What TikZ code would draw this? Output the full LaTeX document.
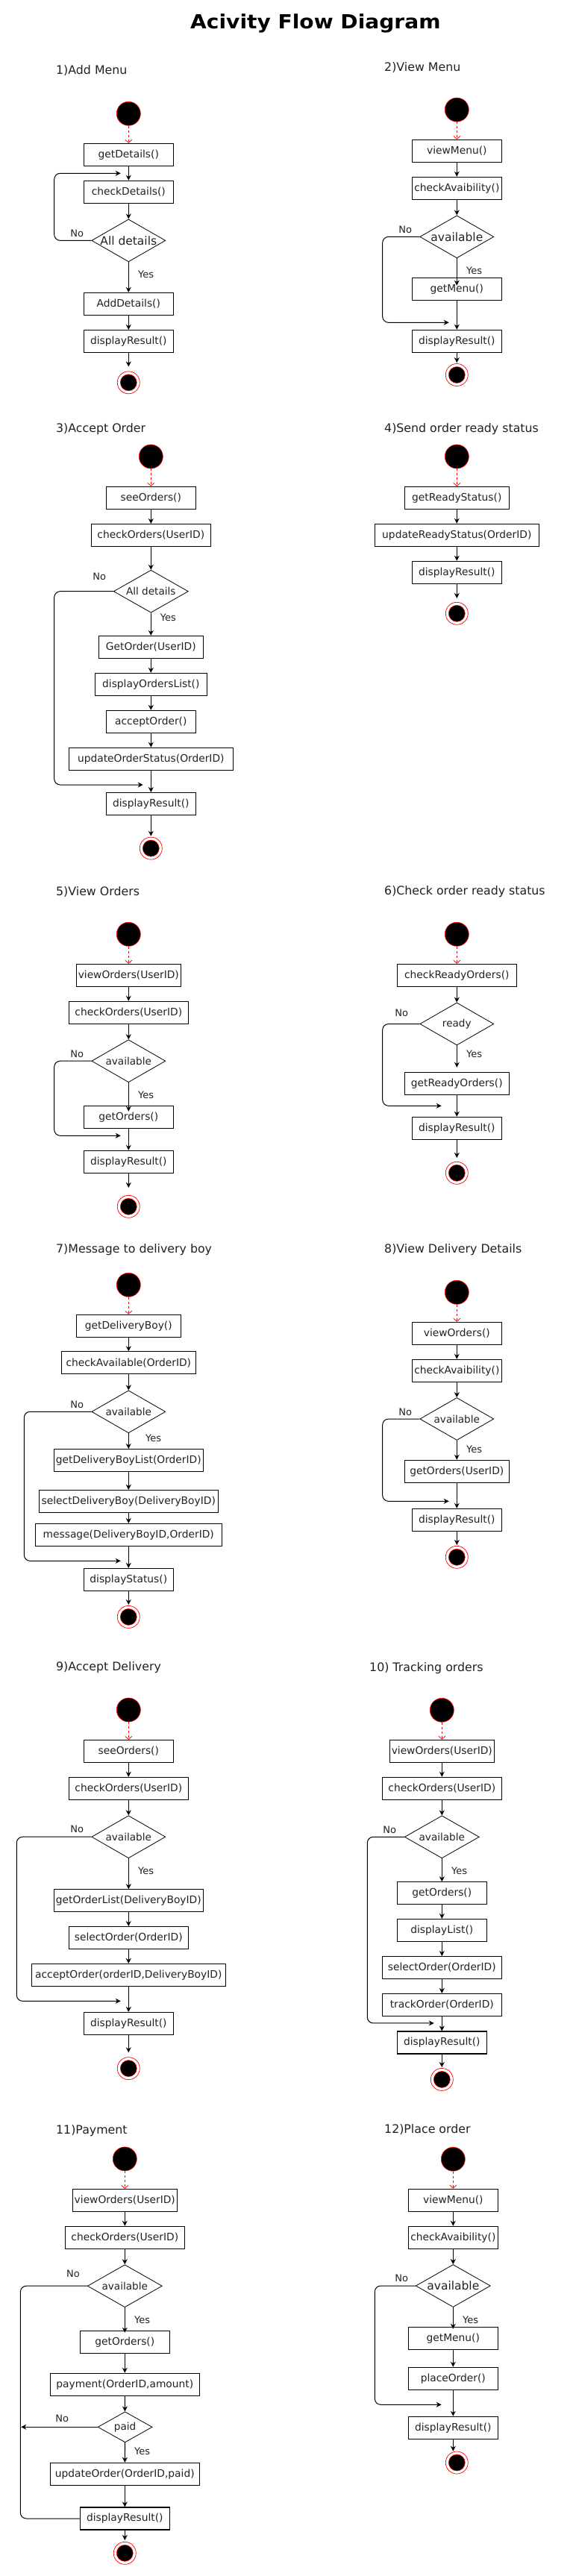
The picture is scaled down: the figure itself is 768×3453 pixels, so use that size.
\documentclass[tikz,border=0pt]{standalone}
\usepackage{fontspec}
\usepackage{graphicx}
\setmainfont{DejaVu Sans}
\usetikzlibrary{arrows.meta,shapes.geometric}
\definecolor{txt}{HTML}{222222}
\newcommand{\fntbox}{\fontsize{13.8}{16}\selectfont}
\newcommand{\fntlbl}{\fontsize{13}{15}\selectfont}
\newcommand{\fntsec}{\fontsize{15.8}{18}\selectfont}
\newcommand{\fntdia}{\fontsize{13.6}{16}\selectfont}
\newcommand{\fntdiab}{\fontsize{15.5}{18}\selectfont}
\newcommand{\fntttl}{\fontsize{26}{30}\selectfont\bfseries}
\begin{document}
\begin{tikzpicture}[x=1pt,y=-1pt,
  box/.style={draw=black, line width=1.1pt, minimum height=30pt, inner sep=0pt, font=\fntbox, text=txt},
  dec/.style={draw=black, line width=0.8pt, diamond, inner sep=0pt, minimum width=99pt, minimum height=57pt},
  dtxt/.style={font=\fntdia, text=txt},
  dtxtb/.style={font=\fntdiab, text=txt},
  st/.style={circle, fill=black, draw=red, line width=0.6pt, minimum size=32pt, inner sep=0pt},
  en/.style={circle, draw=red, line width=0.7pt, minimum size=30pt, inner sep=0pt,
    path picture={\filldraw[fill=black,draw=red,line width=0.5pt] (path picture bounding box.center) circle (11pt);}},
  arr/.style={line width=1.1pt, -{Stealth[length=7pt,width=7pt]}},
  darr/.style={red, line width=0.8pt, dash pattern=on 3pt off 3pt, -{Straight Barb[length=4pt,width=9pt]}},
  back/.style={line width=1pt, rounded corners=8pt, -{Stealth[length=7pt,width=7pt]}},
  backline/.style={line width=1pt, rounded corners=8pt},
  lbl/.style={font=\fntlbl, text=txt},
  sec/.style={font=\fntsec, text=txt, anchor=west, inner sep=0pt},
]
\useasboundingbox[fill=white] (0,0) rectangle (768,3453);

\node[font=\fntttl, anchor=west, inner sep=0pt] (ttl) at (255,31.5) {\scalebox{1.08}[1]{Acivity Flow Diagram}};

% ---------- 1) Add Menu ----------
\node[sec] (t1) at (75,95) {1)Add Menu};
\node[st] (s1) at (172.3,152.3) {};
\node[box, minimum width=120pt] (a1) at (172.3,207.4) {getDetails()};
\node[box, minimum width=120pt] (a2) at (172.3,257.3) {checkDetails()};
\node[dec, label={[dtxtb]center:All details}] (d1) at (172.3,322.4) {};
\node[box, minimum width=120pt] (a3) at (172.3,407.4) {AddDetails()};
\node[box, minimum width=120pt] (a4) at (172.3,457.5) {displayResult()};
\node[en] (e1) at (172.3,512.8) {};
\node[lbl] (n1) at (103.3,313) {No};
\node[lbl] (y1) at (195.7,368) {Yes};
\coordinate (k1) at (72.7,232.3);
\coordinate (j1) at (161.7,232.3);
\draw[darr] (s1) -- (a1);
\draw[arr] (a1) -- (a2);
\draw[arr] (a2) -- (d1);
\draw[arr] (d1) -- (a3);
\draw[arr] (a3) -- (a4);
\draw[arr, shorten >=6pt] (a4) -- (e1);
\draw[back] (d1.west) -| (k1) -- (j1);

% ---------- 2) View Menu ----------
\node[sec] (t2) at (515,90.3) {2)View Menu};
\node[st] (s2) at (612.3,147.1) {};
\node[box, minimum width=120pt] (b1) at (612.3,202.4) {viewMenu()};
\node[box, minimum width=120pt] (b2) at (612.3,252.3) {checkAvaibility()};
\node[dec, label={[dtxtb]center:available}] (d2) at (612.3,317.4) {};
\node[box, minimum width=120pt] (b3) at (612.3,387.3) {getMenu()};
\node[box, minimum width=120pt] (b4) at (612.3,457.3) {displayResult()};
\node[en] (e2) at (612.3,502.5) {};
\node[lbl] (n2) at (543.3,308) {No};
\node[lbl] (y2) at (635.7,363) {Yes};
\coordinate (k2) at (512.7,432.3);
\coordinate (j2) at (601.7,432.3);
\draw[darr] (s2) -- (b1);
\draw[arr] (b1) -- (b2);
\draw[arr] (b2) -- (d2);
\draw[arr, shorten >=-11pt] (d2) -- (b3);
\draw[arr] (b3) -- (b4);
\draw[arr, shorten >=1pt] (b4) -- (e2);
\draw[back] (d2.west) -| (k2) -- (j2);

% ---------- 3) Accept Order ----------
\node[sec] (t3) at (75,575) {3)Accept Order};
\node[st] (s3) at (202.3,612) {};
\node[box, minimum width=120pt] (c1) at (202.3,667.4) {seeOrders()};
\node[box, minimum width=160pt] (c2) at (202.3,717.5) {checkOrders(UserID)};
\node[dec, minimum width=100pt, label={[dtxt]center:All details}] (d3) at (202.3,792.7) {};
\node[box, minimum width=140pt] (c3) at (202.3,867.4) {GetOrder(UserID)};
\node[box, minimum width=150pt] (c4) at (202.3,917.4) {displayOrdersList()};
\node[box, minimum width=120pt] (c5) at (202.3,967.4) {acceptOrder()};
\node[box, minimum width=220pt] (c6) at (202.3,1017.3) {updateOrderStatus(OrderID)};
\node[box, minimum width=120pt] (c7) at (202.3,1077.5) {displayResult()};
\node[en] (e3) at (202.3,1137.1) {};
\node[lbl] (n3) at (133.3,772.9) {No};
\node[lbl] (y3) at (225.3,827.9) {Yes};
\coordinate (k3) at (72.7,1052);
\coordinate (j3) at (191.7,1052);
\draw[darr] (s3) -- (c1);
\draw[arr] (c1) -- (c2);
\draw[arr] (c2) -- (d3);
\draw[arr] (d3) -- (c3);
\draw[arr] (c3) -- (c4);
\draw[arr] (c4) -- (c5);
\draw[arr] (c5) -- (c6);
\draw[arr] (c6) -- (c7);
\draw[arr, shorten >=1pt] (c7) -- (e3);
\draw[back] (d3.west) -| (k3) -- (j3);

% ---------- 4) Send order ready status ----------
\node[sec] (t4) at (515,575.5) {4)Send order ready status};
\node[st] (s4) at (612.3,612) {};
\node[box, minimum width=140pt] (f1) at (612.3,667.5) {getReadyStatus()};
\node[box, minimum width=220pt] (f2) at (612.3,717.3) {updateReadyStatus(OrderID)};
\node[box, minimum width=120pt] (f3) at (612.3,767.3) {displayResult()};
\node[en] (e4) at (612.3,822.3) {};
\draw[darr] (s4) -- (f1);
\draw[arr] (f1) -- (f2);
\draw[arr] (f2) -- (f3);
\draw[arr, shorten >=5pt] (f3) -- (e4);

% ---------- 5) View Orders ----------
\node[sec] (t5) at (75,1195.2) {5)View Orders};
\node[st] (s5) at (172.3,1252.3) {};
\node[box, minimum width=140pt] (g1) at (172.3,1307.3) {viewOrders(UserID)};
\node[box, minimum width=160pt] (g2) at (172.3,1357.3) {checkOrders(UserID)};
\node[dec, label={[dtxt]center:available}] (d5) at (172.3,1422.2) {};
\node[box, minimum width=120pt] (g3) at (172.3,1497.3) {getOrders()};
\node[box, minimum width=120pt] (g4) at (172.3,1557.3) {displayResult()};
\node[en] (e5) at (172.3,1617.3) {};
\node[lbl] (n5) at (103.3,1413.3) {No};
\node[lbl] (y5) at (195.7,1468) {Yes};
\coordinate (k5) at (72.7,1522.3);
\coordinate (j5) at (161.7,1522.3);
\draw[darr] (s5) -- (g1);
\draw[arr] (g1) -- (g2);
\draw[arr] (g2) -- (d5);
\draw[arr, shorten >=-8pt] (d5) -- (g3);
\draw[arr] (g3) -- (g4);
\draw[arr, shorten >=10pt] (g4) -- (e5);
\draw[back] (d5.west) -| (k5) -- (j5);

% ---------- 6) Check order ready status ----------
\node[sec] (t6) at (515,1195.2) {6)Check order ready status};
\node[st] (s6) at (612.3,1252.3) {};
\node[box, minimum width=160pt] (h1) at (612.3,1307.3) {checkReadyOrders()};
\node[dec, label={[dtxt]center:ready}] (d6) at (612.3,1372.5) {};
\node[box, minimum width=140pt] (h2) at (612.3,1452.3) {getReadyOrders()};
\node[box, minimum width=120pt] (h3) at (612.3,1512.3) {displayResult()};
\node[en] (e6) at (612.3,1572.3) {};
\node[lbl] (n6) at (538.3,1358.3) {No};
\node[lbl] (y6) at (635.7,1413) {Yes};
\coordinate (k6) at (512.7,1482.3);
\coordinate (j6) at (591.7,1482.3);
\draw[darr] (s6) -- (h1);
\draw[arr] (h1) -- (d6);
\draw[arr, shorten >=6pt] (d6) -- (h2);
\draw[arr] (h2) -- (h3);
\draw[arr, shorten >=5pt] (h3) -- (e6);
\draw[back] (d6.west) -| (k6) -- (j6);

% ---------- 7) Message to delivery boy ----------
\node[sec] (t7) at (75,1675) {7)Message to delivery boy};
\node[st] (s7) at (172.3,1722.3) {};
\node[box, minimum width=140pt] (m1) at (172.3,1777.3) {getDeliveryBoy()};
\node[box, minimum width=180pt] (m2) at (172.3,1826.8) {checkAvailable(OrderID)};
\node[dec, label={[dtxt]center:available}] (d7) at (172.3,1892.3) {};
\node[box, minimum width=200pt] (m3) at (172.3,1957.6) {getDeliveryBoyList(OrderID)};
\node[box, minimum width=240pt] (m4) at (172.3,2012.4) {selectDeliveryBoy(DeliveryBoyID)};
\node[box, minimum width=250pt] (m5) at (172.3,2057.5) {message(DeliveryBoyID,OrderID)};
\node[box, minimum width=120pt] (m6) at (172.3,2117.4) {displayStatus()};
\node[en] (e7) at (172.3,2167.4) {};
\node[lbl] (n7) at (103.3,1883.3) {No};
\node[lbl] (y7) at (205.7,1928) {Yes};
\coordinate (k7) at (32.3,2092.3);
\coordinate (j7) at (161.7,2092.3);
\draw[darr] (s7) -- (m1);
\draw[arr] (m1) -- (m2);
\draw[arr] (m2) -- (d7);
\draw[arr] (d7) -- (m3);
\draw[arr] (m3) -- (m4);
\draw[arr] (m4) -- (m5);
\draw[arr] (m5) -- (m6);
\draw[arr, shorten >=1pt] (m6) -- (e7);
\draw[back] (d7.west) -| (k7) -- (j7);

% ---------- 8) View Delivery Details ----------
\node[sec] (t8) at (515,1675) {8)View Delivery Details};
\node[st] (s8) at (612.3,1732.3) {};
\node[box, minimum width=120pt] (p1) at (612.3,1787.3) {viewOrders()};
\node[box, minimum width=120pt] (p2) at (612.3,1837.3) {checkAvaibility()};
\node[dec, label={[dtxt]center:available}] (d8) at (612.3,1902) {};
\node[box, minimum width=140pt] (p3) at (612.3,1972.3) {getOrders(UserID)};
\node[box, minimum width=120pt] (p4) at (612.3,2037.3) {displayResult()};
\node[en] (e8) at (612.3,2087.3) {};
\node[lbl] (n8) at (543.3,1893.3) {No};
\node[lbl] (y8) at (635.7,1943) {Yes};
\coordinate (k8) at (512.7,2012.3);
\coordinate (j8) at (601.7,2012.3);
\draw[darr] (s8) -- (p1);
\draw[arr] (p1) -- (p2);
\draw[arr] (p2) -- (d8);
\draw[arr] (d8) -- (p3);
\draw[arr] (p3) -- (p4);
\draw[arr, shorten >=1pt] (p4) -- (e8);
\draw[back] (d8.west) -| (k8) -- (j8);

% ---------- 9) Accept Delivery ----------
\node[sec] (t9) at (75,2235) {9)Accept Delivery};
\node[st] (s9) at (172.3,2292) {};
\node[box, minimum width=120pt] (q1) at (172.3,2347.5) {seeOrders()};
\node[box, minimum width=160pt] (q2) at (172.3,2397.4) {checkOrders(UserID)};
\node[dec, label={[dtxt]center:available}] (d9) at (172.3,2462.2) {};
\node[box, minimum width=200pt] (q3) at (172.3,2547.7) {getOrderList(DeliveryBoyID)};
\node[box, minimum width=160pt] (q4) at (172.3,2597.6) {selectOrder(OrderID)};
\node[box, minimum width=260pt] (q5) at (172.3,2647.4) {acceptOrder(orderID,DeliveryBoyID)};
\node[box, minimum width=120pt] (q6) at (172.3,2712.4) {displayResult()};
\node[en] (e9) at (172.3,2772.6) {};
\node[lbl] (n9) at (103.3,2452) {No};
\node[lbl] (y9) at (195.7,2508) {Yes};
\coordinate (k9) at (22.3,2682.3);
\coordinate (j9) at (161.7,2682.3);
\draw[darr] (s9) -- (q1);
\draw[arr] (q1) -- (q2);
\draw[arr] (q2) -- (d9);
\draw[arr] (d9) -- (q3);
\draw[arr] (q3) -- (q4);
\draw[arr] (q4) -- (q5);
\draw[arr] (q5) -- (q6);
\draw[arr, shorten >=6pt] (q6) -- (e9);
\draw[back] (d9.west) -| (k9) -- (j9);

% ---------- 10) Tracking orders ----------
\node[sec] (t10) at (495,2235.7) {10) Tracking orders};
\node[st] (s10) at (592.3,2292.3) {};
\node[box, minimum width=140pt] (r1) at (592.3,2347.3) {viewOrders(UserID)};
\node[box, minimum width=160pt] (r2) at (592.3,2397.3) {checkOrders(UserID)};
\node[dec, minimum width=100pt, label={[dtxt]center:available}] (d10) at (592.3,2462.3) {};
\node[box, minimum width=120pt] (r3) at (592.3,2537.7) {getOrders()};
\node[box, minimum width=120pt] (r4) at (592.3,2587.5) {displayList()};
\node[box, minimum width=160pt] (r5) at (592.3,2637.5) {selectOrder(OrderID)};
\node[box, minimum width=160pt] (r6) at (592.3,2687.4) {trackOrder(OrderID)};
\node[box, minimum width=120pt] (r7) at (592.3,2738) {displayResult()};
\node[en] (e10) at (592.3,2787.4) {};
\node[lbl] (n10) at (522.3,2453) {No};
\node[lbl] (y10) at (615.7,2507.8) {Yes};
\coordinate (k10) at (492.3,2711.9);
\coordinate (j10) at (581.7,2711.9);
\draw[darr] (s10) -- (r1);
\draw[arr] (r1) -- (r2);
\draw[arr] (r2) -- (d10);
\draw[arr] (d10) -- (r3);
\draw[arr] (r3) -- (r4);
\draw[arr] (r4) -- (r5);
\draw[arr] (r5) -- (r6);
\draw[arr] (r6) -- (r7);
\draw[arr, shorten >=1pt] (r7) -- (e10);
\draw[back] (d10.west) -| (k10) -- (j10);

% ---------- 11) Payment ----------
\node[sec] (t11) at (75,2856.5) {11)Payment};
\node[st] (s11) at (167.3,2893.9) {};
\node[box, minimum width=140pt] (u1) at (167.3,2949.4) {viewOrders(UserID)};
\node[box, minimum width=160pt] (u2) at (167.3,2999.3) {checkOrders(UserID)};
\node[dec, minimum width=100pt, label={[dtxt]center:available}] (d11) at (167.3,3064.2) {};
\node[box, minimum width=120pt] (u3) at (167.3,3139.3) {getOrders()};
\node[box, minimum width=200pt] (u4) at (167.3,3196.3) {payment(OrderID,amount)};
\node[dec, minimum width=73pt, minimum height=41pt, label={[dtxt]center:paid}] (pd) at (167.6,3253.3) {};
\node[box, minimum width=200pt] (u5) at (167.3,3316.3) {updateOrder(OrderID,paid)};
\node[box, minimum width=120pt] (u6) at (167.3,3376) {displayResult()};
\node[en] (e11) at (167.3,3422.3) {};
\node[lbl] (n11) at (98,3048) {No};
\node[lbl] (y11) at (190.7,3110) {Yes};
\node[lbl] (n11b) at (83.3,3242) {No};
\node[lbl] (y11b) at (190.7,3286) {Yes};
\coordinate (k11) at (27.3,3376);
\coordinate (c11) at (28.3,3253.3);
\draw[darr] (s11) -- (u1);
\draw[arr] (u1) -- (u2);
\draw[arr] (u2) -- (d11);
\draw[arr, shorten >=-3pt] (d11) -- (u3);
\draw[arr] (u3) -- (u4);
\draw[arr] (u4) -- (pd);
\draw[arr] (pd) -- (u5);
\draw[arr] (u5) -- (u6);
\draw[arr, shorten >=2pt] (u6) -- (e11);
\draw[arr] (pd.west) -- (c11);
\draw[backline] (d11.west) -| (k11) -- (u6.west);

% ---------- 12) Place order ----------
\node[sec] (t12) at (515,2854.6) {12)Place order};
\node[st] (s12) at (607.3,2894.2) {};
\node[box, minimum width=120pt] (v1) at (607.3,2949.1) {viewMenu()};
\node[box, minimum width=120pt] (v2) at (607.3,2999.3) {checkAvaibility()};
\node[dec, minimum width=100pt, label={[dtxtb]center:available}] (d12) at (607.3,3064) {};
\node[box, minimum width=120pt] (v3) at (607.3,3134.3) {getMenu()};
\node[box, minimum width=120pt] (v4) at (607.3,3188.3) {placeOrder()};
\node[box, minimum width=120pt] (v5) at (607.3,3254.3) {displayResult()};
\node[en] (e12) at (612.3,3301) {};
\node[lbl] (n12) at (538.3,3054.3) {No};
\node[lbl] (y12) at (630.7,3110) {Yes};
\coordinate (k12) at (502.3,3223.3);
\coordinate (j12) at (591.7,3223.3);
\draw[darr] (s12) -- (v1);
\draw[arr] (v1) -- (v2);
\draw[arr] (v2) -- (d12);
\draw[arr, shorten >=-3pt] (d12) -- (v3);
\draw[arr] (v3) -- (v4);
\draw[arr] (v4) -- (v5);
\draw[arr] (v5) -- (v5 |- e12.north);
\draw[back] (d12.west) -| (k12) -- (j12);
\end{tikzpicture}
\end{document}
